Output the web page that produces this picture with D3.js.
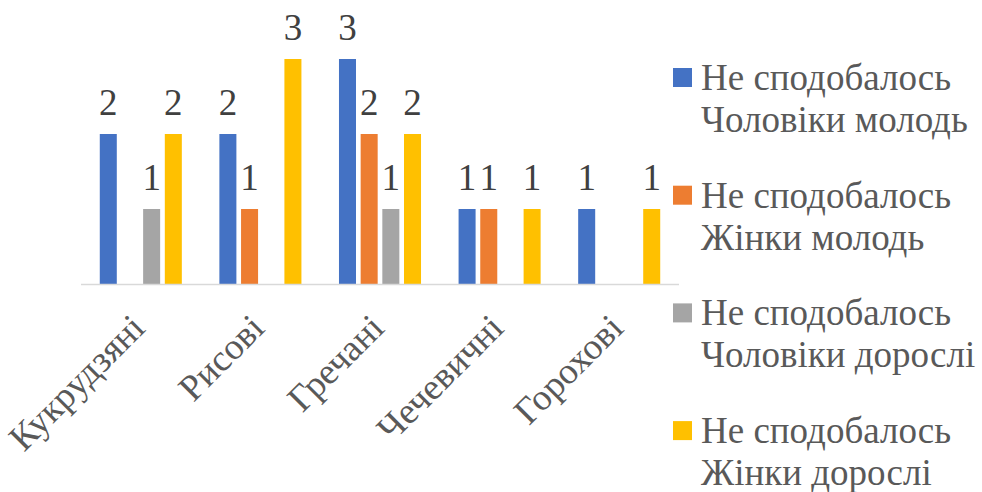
<!DOCTYPE html>
<html>
<head>
<meta charset="utf-8">
<script src="https://cdn.jsdelivr.net/npm/d3@7"></script>
<style>
  body { margin: 0; background: #fff; font-family: "Liberation Serif", serif; }
</style>
</head>
<body>
<div id="chart"></div>
<script>
// categories and series
const categories = ["Кукрудзяні", "Рисові", "Гречані", "Чечевичні", "Горохові"];
const seriesNames = [
  ["Не сподобалось", "Чоловіки молодь"],
  ["Не сподобалось", "Жінки молодь"],
  ["Не сподобалось", "Чоловіки дорослі"],
  ["Не сподобалось", "Жінки дорослі"]
];
const colors = ["#4472C4", "#ED7D31", "#A5A5A5", "#FFC000"];
// null = no bar / no label
const menYoung   = [2, 2, 3, 1, 1];
const womenYoung = [null, 1, 2, 1, null];
const menAdult   = [1, null, 1, null, null];
const womenAdult = [2, 3, 2, 1, 1];
const allSeries = [menYoung, womenYoung, menAdult, womenAdult];

const W = 982, H = 492;
const FONT = '"Liberation Serif", Tinos, serif';
const svg = d3.select("#chart").append("svg")
  .attr("width", W).attr("height", H);

const x0 = d3.scaleBand()
  .domain(categories)
  .range([81, 679])
  .paddingInner(0.314)
  .paddingOuter(0.157);

const x1 = d3.scaleBand()
  .domain(d3.range(allSeries.length))
  .range([0, x0.bandwidth()])
  .paddingInner(0.215)
  .paddingOuter(0);

const y = d3.scaleLinear().domain([0, 3]).range([284, 59]);

const cells = [];
allSeries.forEach((vals, s) => {
  vals.forEach((v, i) => {
    if (v != null) cells.push({ cat: categories[i], s: s, v: v });
  });
});

// bars
svg.selectAll("rect.bar")
  .data(cells)
  .enter().append("rect")
  .attr("class", "bar")
  .attr("x", d => x0(d.cat) + x1(d.s))
  .attr("y", d => y(d.v))
  .attr("width", x1.bandwidth())
  .attr("height", d => y(0) - y(d.v))
  .attr("fill", d => colors[d.s]);

// axis line
svg.append("line")
  .attr("x1", x0.range()[0]).attr("x2", x0.range()[1])
  .attr("y1", y(0) + 0.5).attr("y2", y(0) + 0.5)
  .attr("stroke", "#d9d9d9").attr("stroke-width", 1.5);

// data labels
svg.selectAll("text.val")
  .data(cells)
  .enter().append("text")
  .attr("class", "val")
  .attr("x", d => x0(d.cat) + x1(d.s) + x1.bandwidth() / 2)
  .attr("y", d => y(d.v) - 19)
  .attr("text-anchor", "middle")
  .attr("font-size", 37)
  .attr("fill", "#404040")
  .style("font-family", FONT, "important")
  .text(d => d.v);

// category labels
svg.selectAll("text.cat")
  .data(categories)
  .enter().append("text")
  .attr("class", "cat")
  .attr("transform", d => `translate(${x0(d) + x0.bandwidth() / 2 + 6},330) rotate(-45)`)
  .attr("text-anchor", "end")
  .attr("font-size", 37)
  .attr("fill", "#595959")
  .style("font-family", FONT, "important")
  .text(d => d);

// legend
seriesNames.forEach((lines, i) => {
  const top = 90 + i * 117.7;
  svg.append("rect")
    .attr("x", 673).attr("y", top - 22)
    .attr("width", 19).attr("height", 19)
    .attr("fill", colors[i]);
  lines.forEach((line, j) => {
    svg.append("text")
      .attr("x", 701)
      .attr("y", top + j * 42)
      .attr("font-size", 37)
      .attr("fill", "#595959")
      .style("font-family", FONT, "important")
      .text(line);
  });
});
</script>
</body>
</html>
